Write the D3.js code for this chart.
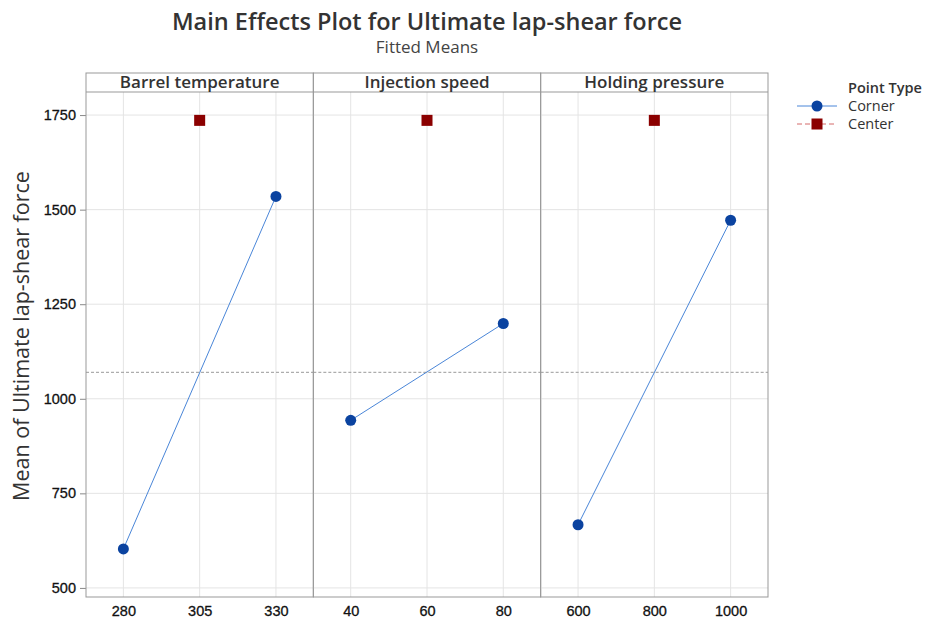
<!DOCTYPE html>
<html>
<head>
<meta charset="utf-8">
<script src="https://cdn.jsdelivr.net/npm/d3@7"></script>
<style>
  body { margin: 0; background: #fff; }
  svg { font-family: "Open Sans", "Noto Sans", sans-serif; }
</style>
</head>
<body>
<svg width="927" height="621"></svg>
<script>
// factors and their levels
var factors = ['Barrel temperature', 'Injection speed', 'Holding pressure'];
var cornerLevels = [[280, 330], [40, 80], [600, 1000]];
var cornerMeans = [[603, 1535], [943, 1199], [667, 1472]];
var centerLevels = [305, 60, 800];
var centerMeans = [1736, 1736, 1736];
var tickLabels = [[280, 305, 330], [40, 60, 80], [600, 800, 1000]];
var yTicks = [500, 750, 1000, 1250, 1500, 1750];
var grandMean = 1070;

var svg = d3.select('svg');
var plotL = 86, plotR = 768, plotT = 73, strip = 19, plotB = 597;
var panelW = (plotR - plotL) / factors.length;

var y = d3.scaleLinear().domain([476, 1811]).range([plotB, plotT + strip]);

svg.append('text').attr('x', 427).attr('y', 30).attr('text-anchor', 'middle')
  .attr('font-size', 23.5).attr('font-weight', 600).attr('fill', '#333')
  .text('Main Effects Plot for Ultimate lap-shear force');
svg.append('text').attr('x', 427).attr('y', 53).attr('text-anchor', 'middle')
  .attr('font-size', 17).attr('fill', '#444').text('Fitted Means');

// y axis
var yAxis = svg.append('g').attr('transform', 'translate(' + plotL + ',0)')
  .call(d3.axisLeft(y).tickValues(yTicks).tickFormat(d3.format('d')).tickSize(6).tickPadding(4));
yAxis.select('.domain').remove();
yAxis.selectAll('line').attr('stroke', '#888');
yAxis.selectAll('text').attr('font-size', 14.5).attr('fill', '#111')
  .attr('stroke', '#111').attr('stroke-width', 0.3);

svg.append('text').attr('transform', 'translate(29,336) rotate(-90)')
  .attr('text-anchor', 'middle').attr('font-size', 21.5).attr('fill', '#333')
  .text('Mean of Ultimate lap-shear force');

var line = d3.line();

factors.forEach(function (name, i) {
  var x0 = plotL + i * panelW;
  var step = (cornerLevels[i][1] - cornerLevels[i][0]) / 2;
  var x = d3.scaleLinear()
    .domain([cornerLevels[i][0] - step * 0.49, cornerLevels[i][1] + step * 0.49])
    .range([x0, x0 + panelW]);
  var g = svg.append('g');

  // grid
  g.selectAll('.vg').data(tickLabels[i]).enter().append('line')
    .attr('x1', function (d) { return x(d); }).attr('x2', function (d) { return x(d); })
    .attr('y1', plotT + strip).attr('y2', plotB).attr('stroke', '#e4e4e4');
  g.selectAll('.hg').data(yTicks).enter().append('line')
    .attr('x1', x0).attr('x2', x0 + panelW)
    .attr('y1', function (d) { return y(d); }).attr('y2', function (d) { return y(d); })
    .attr('stroke', '#e4e4e4');

  // grand mean reference
  g.append('line').attr('x1', x0).attr('x2', x0 + panelW)
    .attr('y1', y(grandMean)).attr('y2', y(grandMean))
    .attr('stroke', '#999').attr('stroke-dasharray', '3,2');

  // panel frame and strip
  g.append('rect').attr('x', x0).attr('y', plotT).attr('width', panelW).attr('height', plotB - plotT)
    .attr('fill', 'none').attr('stroke', '#999');
  g.append('line').attr('x1', x0).attr('x2', x0 + panelW).attr('y1', plotT + strip).attr('y2', plotT + strip)
    .attr('stroke', '#999');
  g.append('text').attr('x', x0 + panelW / 2).attr('y', plotT + 15).attr('text-anchor', 'middle')
    .attr('font-size', 17).attr('font-weight', 600).attr('fill', '#333').text(name);

  // x axis
  var xAxis = g.append('g').attr('transform', 'translate(0,' + plotB + ')')
    .call(d3.axisBottom(x).tickValues(tickLabels[i]).tickFormat(d3.format('d')).tickSize(0).tickPadding(9));
  xAxis.select('.domain').remove();
  xAxis.selectAll('text').attr('font-size', 14.5).attr('fill', '#111')
    .attr('stroke', '#111').attr('stroke-width', 0.3);

  // corner points
  var pts = cornerLevels[i].map(function (v, j) { return [x(v), y(cornerMeans[i][j])]; });
  g.append('path').attr('d', line(pts)).attr('fill', 'none').attr('stroke', '#4a86d8').attr('stroke-width', 1);
  g.selectAll('.pt').data(pts).enter().append('circle')
    .attr('cx', function (d) { return d[0]; }).attr('cy', function (d) { return d[1]; })
    .attr('r', 5.5).attr('fill', '#0b43a0');

  // center point
  g.append('rect').attr('x', x(centerLevels[i]) - 5.5).attr('y', y(centerMeans[i]) - 5.5)
    .attr('width', 11).attr('height', 11).attr('fill', '#8b0000');
});

// legend
var lg = svg.append('g');
lg.append('text').attr('x', 848).attr('y', 93).attr('font-size', 14.5).attr('font-weight', 600)
  .attr('fill', '#333').text('Point Type');
lg.append('line').attr('x1', 797).attr('x2', 837).attr('y1', 106).attr('y2', 106).attr('stroke', '#4a86d8');
lg.append('circle').attr('cx', 817).attr('cy', 106).attr('r', 5.5).attr('fill', '#0b43a0');
lg.append('text').attr('x', 848).attr('y', 111).attr('font-size', 14.5).attr('fill', '#333').text('Corner');
lg.append('line').attr('x1', 797).attr('x2', 837).attr('y1', 124).attr('y2', 124)
  .attr('stroke', '#d46a6a').attr('stroke-dasharray', '5,3');
lg.append('rect').attr('x', 811.5).attr('y', 118.5).attr('width', 11).attr('height', 11).attr('fill', '#8b0000');
lg.append('text').attr('x', 848).attr('y', 129).attr('font-size', 14.5).attr('fill', '#333').text('Center');
</script>
</body>
</html>
